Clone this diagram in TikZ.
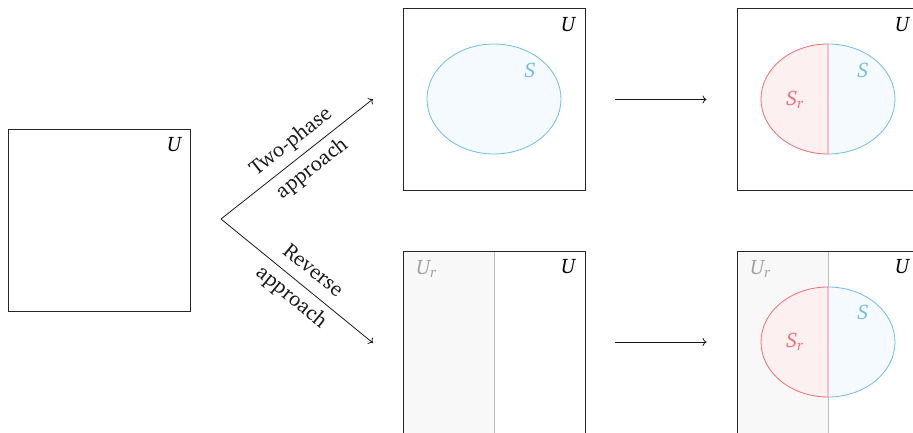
\documentclass[tikz,border=0pt]{standalone}
\usepackage[T1]{fontenc}
\usepackage{charter}
\usepackage{amstext}
\usetikzlibrary{arrows.meta}

\definecolor{skyline}{HTML}{6CBEE0}
\definecolor{skyfill}{HTML}{F4FAFD}
\definecolor{roseline}{HTML}{F06A74}
\definecolor{rosefill}{HTML}{FDF0F0}
\definecolor{stripfill}{HTML}{F8F8F8}
\definecolor{stripline}{HTML}{BDBDBD}
\definecolor{striptext}{HTML}{A0A0A0}

\tikzset{
  universe/.style={draw=black!85, line width=0.9pt, minimum width=182pt,
    minimum height=182pt, inner sep=0pt},
  setlabel/.style={font=\fontsize{21}{24}\selectfont, inner sep=0pt},
  flow/.style={-{To[length=4pt,width=8pt]}, line width=0.8pt, black!90},
  way/.style={font=\fontsize{21}{34}\selectfont, align=center, sloped,
    pos=0.53, inner sep=0pt},
  subset/.style={line width=0.8pt},
}

\begin{document}
\begin{tikzpicture}[x=1pt,y=1pt]
\useasboundingbox (0,0) rectangle (913,432);

% restricted parts of the universe (lower row)
\filldraw[fill=stripfill, draw=stripline, line width=0.9pt]
  (403,181) rectangle (494,-5);
\filldraw[fill=stripfill, draw=stripline, line width=0.9pt]
  (737,181) rectangle (828,-5);

% universes
\node[universe] (u0) at (99,212) {};
\node[universe] (tm) at (494,332.5) {};
\node[universe] (tr) at (828,332.5) {};
\node[universe] (bm) at (494,90) {};
\node[universe] (br) at (828,90) {};

% the set S alone
\filldraw[subset, draw=skyline, fill=skyfill] (494,333) ellipse (67 and 55);

% S split into S_r and the rest (upper row)
\fill[skyfill] (828,388) arc (90:-90:67 and 55) -- cycle;
\draw[subset, skyline] (828,388) arc (90:-90:67 and 55);
\filldraw[subset, draw=roseline, fill=rosefill]
  (828,388) arc (90:270:67 and 55) -- cycle;

% S split into S_r and the rest (lower row)
\fill[skyfill] (828,145) arc (90:-90:67 and 55) -- cycle;
\draw[subset, skyline] (828,145) arc (90:-90:67 and 55);
\filldraw[subset, draw=roseline, fill=rosefill]
  (828,145) arc (90:270:67 and 55) -- cycle;

% labels of the universes
\node[setlabel] (l0) at ([shift={(-16,-16)}]u0.north east) {$\textit{U}$};
\node[setlabel] (l1) at ([shift={(-17,-16)}]tm.north east) {$\textit{U}$};
\node[setlabel] (l2) at ([shift={(-17,-16)}]tr.north east) {$\textit{U}$};
\node[setlabel] (l3) at ([shift={(-17,-16)}]bm.north east) {$\textit{U}$};
\node[setlabel] (l4) at ([shift={(-17,-16)}]br.north east) {$\textit{U}$};
\node[setlabel, text=striptext] (r3) at ([shift={(24,-18)}]bm.north west) {$\textit{U}_{\textit{r}}$};
\node[setlabel, text=striptext] (r4) at ([shift={(24,-18)}]br.north west) {$\textit{U}_{\textit{r}}$};

% labels of the sets
\node[setlabel, text=skyline] (s1) at (530,362) {$\textit{S}$};
\node[setlabel, text=skyline] (s2) at (863,362) {$\textit{S}$};
\node[setlabel, text=skyline] (s4) at (863,120) {$\textit{S}$};
\node[setlabel, text=roseline] (sr2) at (795,332) {$\textit{S}_{\textit{r}}$};
\node[setlabel, text=roseline] (sr4) at (795,90) {$\textit{S}_{\textit{r}}$};

% the two approaches
\coordinate (fork) at (221,213);
\coordinate (uptip) at (373,333);
\coordinate (lowtip) at (373,89);
\draw[flow] (fork) -- node[way] {Two-phase\\approach} (uptip);
\draw[flow] (fork) -- node[way] {Reverse\\approach} (lowtip);

% steps
\draw[flow, shorten <=30pt, shorten >=30pt] (tm) -- (tr);
\draw[flow, shorten <=30pt, shorten >=30pt] (bm) -- (br);
\end{tikzpicture}
\end{document}
